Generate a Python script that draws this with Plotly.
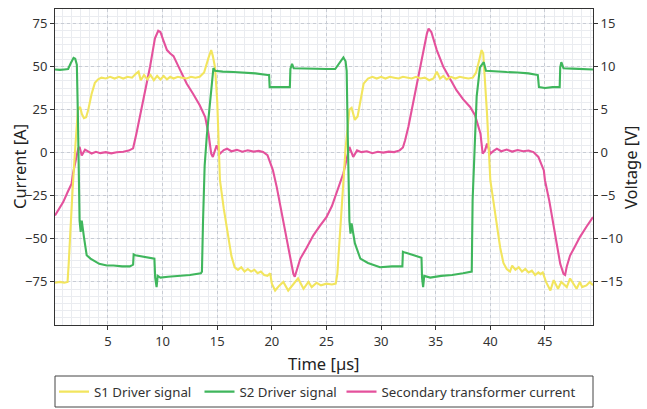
import plotly.graph_objects as go

# ---------------- data ----------------
s1_t = [0.15, 0.6, 1.0, 1.3, 1.4, 1.55, 1.75, 2.0, 2.25, 2.45, 2.6, 2.8, 3.0, 3.2, 3.5, 3.8, 4.1, 4.4,
        4.8, 5.2, 5.6, 6.0, 6.4, 6.8, 7.2, 7.6, 7.8, 8.0, 8.3, 8.6, 8.9, 9.2, 9.5, 9.8, 10.1, 10.4,
        10.7, 11.0, 11.4, 11.8, 12.2, 12.6, 13.0, 13.4, 13.8, 14.2, 14.45, 14.6, 14.8, 15.0, 15.25,
        15.6, 16.0, 16.3, 16.6, 16.9, 17.2, 17.5, 17.8, 18.1, 18.4, 18.7, 19.0, 19.3, 19.6, 19.85,
        20.0, 20.3, 20.7, 21.05, 21.5, 22.0, 22.4, 22.9, 23.35, 23.65, 24.1, 24.5, 25.0, 25.5, 25.85,
        26.0, 26.2, 26.5, 26.75, 26.95, 27.1, 27.3, 27.6, 27.85, 28.1, 28.4, 28.8, 29.2, 29.6, 30.0,
        30.4, 30.8, 31.2, 31.6, 32.0, 32.4, 32.8, 33.2, 33.6, 34.0, 34.4, 34.8, 35.1, 35.4, 35.7,
        36.0, 36.4, 36.8, 37.2, 37.6, 38.0, 38.4, 38.7, 39.0, 39.2, 39.35, 39.5, 39.7, 40.0, 40.4,
        40.9, 41.2, 41.5, 41.8, 42.0, 42.3, 42.6, 42.9, 43.2, 43.5, 43.8, 44.1, 44.4, 44.6, 44.8,
        45.1, 45.5, 45.8, 46.0, 46.2, 46.5, 47.0, 47.3, 47.6, 47.9, 48.2, 48.4, 48.8, 49.1, 49.4]
s1_v = [-15.1, -15.0, -15.1, -15.0, -13.0, -9.0, -4.5, 0.5, 5.0, 5.3, 4.5, 4.0, 4.1, 5.0, 6.8, 8.1, 8.5,
        8.7, 8.6, 8.8, 8.6, 8.8, 8.6, 8.8, 8.7, 9.2, 9.4, 8.4, 9.0, 8.5, 9.0, 8.4, 8.9, 8.5, 8.9, 8.5,
        8.8, 8.6, 8.8, 8.7, 8.6, 8.8, 8.7, 8.8, 9.3, 11.0, 11.9, 11.2, 9.9, 6.0, -3.2, -6.5, -9.8,
        -12.0, -13.3, -13.6, -13.3, -13.8, -13.5, -13.8, -13.6, -14.0, -13.8, -14.2, -14.3, -14.0,
        -15.2, -16.0, -15.4, -15.0, -16.0, -15.2, -14.6, -15.8, -15.0, -15.6, -15.1, -15.4, -15.2,
        -15.3, -15.2, -14.0, -10.0, -3.5, 0.5, 3.0, 5.0, 5.2, 3.8, 4.2, 6.0, 8.0, 8.6, 8.8, 8.6,
        8.8, 8.6, 8.8, 8.7, 8.6, 8.8, 8.7, 8.6, 8.8, 8.6, 8.7, 8.4, 8.6, 9.4, 8.6, 8.9, 8.5, 8.8,
        8.6, 8.8, 8.7, 8.6, 8.7, 9.3, 10.8, 11.9, 11.5, 8.5, 4.5, -3.2, -6.5, -11.0, -12.8, -13.5,
        -13.8, -13.1, -13.6, -13.3, -13.8, -13.5, -13.9, -13.7, -14.2, -13.9, -14.1, -13.9, -15.0,
        -16.0, -14.8, -15.4, -15.8, -15.0, -15.6, -14.6, -15.2, -15.8, -15.0, -15.6, -15.4, -15.0,
        -15.4, -15.3]

s2_t = [0.15, 0.6, 1.0, 1.35, 1.6, 1.85, 2.0, 2.15, 2.25, 2.32, 2.4, 2.5, 2.6, 2.8, 3.05, 3.4, 3.65,
        4.2, 4.9, 5.5, 6.3, 7.0, 7.3, 7.35, 7.5, 8.0, 8.6, 9.25, 9.32, 9.45, 9.55, 9.8, 10.5, 11.5,
        12.5, 13.5, 13.6, 13.7, 13.85, 14.05, 14.3, 14.5, 14.65, 14.8, 15.5, 16.5, 17.5, 18.5, 19.6,
        19.75, 19.8, 20.5, 21.0, 21.65, 21.7, 21.85, 22.0, 23.0, 24.0, 25.0, 25.8, 26.1, 26.55,
        26.75, 26.85, 26.95, 27.05, 27.1, 27.2, 27.3, 27.6, 28.1, 28.8, 29.9, 31.0, 31.95, 32.0,
        32.2, 33.0, 33.7, 33.75, 33.85, 33.95, 34.5, 35.5, 36.5, 37.5, 38.15, 38.3, 38.38, 38.45,
        38.75, 39.05, 39.4, 39.6, 40.5, 41.5, 42.5, 43.5, 44.35, 44.45, 45.0, 45.7, 46.35, 46.4,
        46.5, 46.7, 47.5, 48.5, 49.4]
s2_v = [9.65, 9.6, 9.65, 9.7, 10.4, 11.0, 10.9, 10.2, 4.0, -3.0, -7.9, -9.2, -7.9, -9.8, -11.9,
        -12.3, -12.5, -12.9, -13.1, -13.1, -13.2, -13.2, -13.0, -11.8, -11.9, -12.0, -12.1, -12.3,
        -14.5, -15.6, -14.3, -14.5, -14.4, -14.3, -14.2, -14.0, -13.8, -8.0, -1.5, 2.0, 5.0, 8.0,
        9.8, 9.5, 9.4, 9.35, 9.3, 9.2, 9.0, 9.0, 7.6, 7.6, 7.6, 7.6, 9.7, 10.3, 9.8, 9.75, 9.7,
        9.7, 9.7, 10.3, 11.05, 10.6, 9.5, 2.0, -4.0, -7.9, -9.4, -8.2, -10.5, -12.3, -12.8, -13.3,
        -13.2, -13.2, -11.5, -11.6, -11.9, -12.2, -14.5, -15.6, -14.3, -14.5, -14.3, -14.2, -14.0,
        -13.9, -13.8, -5.5, -3.5, 6.5, 9.9, 10.5, 9.5, 9.4, 9.35, 9.3, 9.2, 9.0, 7.6, 7.5, 7.6,
        7.6, 9.9, 10.5, 9.8, 9.75, 9.7, 9.65]

i_t = [0.15, 0.5, 0.9, 1.3, 1.67, 1.8, 2.0, 2.15, 2.28, 2.4, 2.6, 2.9, 3.2, 3.5, 3.9, 4.3, 4.8, 5.3,
       5.8, 6.4, 6.9, 7.3, 7.6, 7.9, 8.2, 8.5, 8.85, 9.1, 9.3, 9.6, 9.8, 10.06, 10.4, 10.7, 11.0,
       11.6, 12.2, 12.8, 13.4, 13.9, 14.2, 14.45, 14.6, 14.95, 15.25, 15.6, 15.9, 16.3, 16.8, 17.3,
       17.8, 18.3, 18.8, 19.2, 19.6, 20.0, 20.1, 20.45, 21.05, 21.5, 21.97, 22.1, 22.3, 22.6, 23.2,
       23.8, 24.4, 25.0, 25.5, 25.9, 26.55, 26.8, 27.0, 27.1, 27.45, 27.8, 28.2, 28.7, 29.2, 29.7,
       30.2, 30.7, 31.2, 31.7, 32.0, 32.2, 32.5, 32.8, 33.2, 33.6, 33.9, 34.2, 34.35, 34.6, 35.1,
       35.7, 36.3, 36.9, 37.5, 38.15, 38.6, 39.1, 39.3, 39.5, 39.7, 40.0, 40.3, 40.6, 41.0, 41.5,
       42.0, 42.5, 43.0, 43.5, 43.95, 44.4, 44.9, 45.0, 45.4, 45.8, 46.1, 46.4, 46.7, 46.85, 47.0,
       47.3, 47.7, 48.2, 48.8, 49.4]
i_a = [-36.5, -33.0, -28.7, -23.0, -18.0, -12.0, -5.0, 0.0, 2.5, 3.3, -1.6, 1.7, 0.5, -0.5, 0.5,
       -0.3, 0.3, -0.4, 0.2, 0.5, 1.2, 2.5, 11.0, 20.0, 28.5, 39.0, 49.8, 59.0, 66.3, 70.7, 70.0,
       65.3, 59.5, 57.5, 56.0, 48.0, 40.1, 34.0, 27.5, 20.7, 11.0, -0.6, -2.5, 4.2, -0.6, 1.5, 2.3,
       0.8, 1.6, 0.5, 1.4, 0.6, 1.0, 0.4, -1.5, -8.4, -10.3, -20.0, -39.4, -55.0, -70.3, -72.0,
       -68.0, -61.6, -55.0, -48.0, -42.5, -37.4, -31.0, -23.8, -12.0, -5.0, 1.3, 3.3, -2.5, 1.3,
       0.3, 0.8, -0.3, 0.5, 0.0, 0.6, 0.3, 1.3, 3.0, 7.2, 15.0, 24.6, 37.0, 49.8, 60.0, 69.2, 72.0,
       70.0, 59.5, 49.8, 43.0, 36.2, 31.0, 26.5, 21.7, 11.0, -0.6, 1.0, 5.2, -0.6, 1.0, 2.3, 0.8,
       1.8, 0.6, 1.5, 0.8, 1.2, 0.3, -2.5, -10.3, -16.0, -28.0, -43.0, -54.0, -64.5, -70.3, -71.0,
       -66.0, -59.7, -55.0, -49.0, -43.0, -37.4]

x_ticks = [5, 10, 15, 20, 25, 30, 35, 40, 45]
a_ticks = [-75, -50, -25, 0, 25, 50, 75]
v_ticks = [-15, -10, -5, 0, 5, 10, 15]

# ---------------- figure ----------------
W, H = 647, 409
YEL = "#f2e55e"
GRN = "#3fb65c"
PNK = "#e4519c"
FONT = "Noto Sans"
TXT = "#333333"
LW = 2.1

fig = go.Figure()
fig.add_trace(go.Scatter(x=s1_t, y=s1_v, name="S1 Driver signal", mode="lines",
                         line=dict(color=YEL, width=LW), yaxis="y2", legend="legend"))
fig.add_trace(go.Scatter(x=s2_t, y=s2_v, name="S2 Driver signal", mode="lines",
                         line=dict(color=GRN, width=LW), yaxis="y2", legend="legend2"))
fig.add_trace(go.Scatter(x=i_t, y=i_a, name="Secondary transformer current", mode="lines",
                         line=dict(color=PNK, width=LW), yaxis="y", legend="legend3"))

grid_major = "#c8ccd4"
grid_minor = "#eaecf0"
axis_col = "#333333"

def leg(px):
    return dict(orientation="h", xref="container", yref="container",
                x=px / W, xanchor="left", y=1 - 392 / H, yanchor="middle",
                font=dict(family=FONT, size=13.3, color=TXT),
                bgcolor="rgba(0,0,0,0)", borderwidth=0, itemwidth=30)

# plot area: x 55..593, y 9..325
fig.update_layout(
    width=W, height=H,
    margin=dict(l=55, r=54, t=9, b=84, autoexpand=False),
    paper_bgcolor="white", plot_bgcolor="white",
    font=dict(family=FONT, size=13, color=TXT),
    showlegend=True,
    legend=leg(54), legend2=leg(199.5), legend3=leg(341.5),
    xaxis=dict(range=[0.15, 49.4], tickvals=x_ticks, showline=True, linecolor=axis_col,
               linewidth=1, mirror=True, ticks="outside", ticklen=4, tickcolor=axis_col,
               showgrid=True, gridcolor=grid_major, griddash="3px,3px", gridwidth=1,
               minor=dict(dtick=5/6, tick0=0, showgrid=True, gridcolor=grid_minor, gridwidth=1,
                          griddash="solid"),
               zeroline=False, automargin=False,
               tickfont=dict(size=13, color=TXT)),
    yaxis=dict(range=[-100, 83.333], tickvals=a_ticks, showline=True, linecolor=axis_col,
               linewidth=1, ticks="outside", ticklen=4, tickcolor=axis_col,
               showgrid=True, gridcolor=grid_major, griddash="3px,3px", gridwidth=1,
               minor=dict(dtick=25/6, tick0=0, showgrid=True, gridcolor=grid_minor, gridwidth=1,
                          griddash="solid"),
               zeroline=False, automargin=False,
               tickfont=dict(size=13, color=TXT)),
    yaxis2=dict(range=[-20, 16.6667], tickvals=v_ticks, overlaying="y", side="right",
                showline=True, linecolor=axis_col, linewidth=1, ticks="outside", ticklen=4,
                tickcolor=axis_col, showgrid=False, zeroline=False, automargin=False,
                tickfont=dict(size=13, color=TXT)),
    shapes=[dict(type="rect", xref="paper", yref="paper", x0=0, x1=1,
                 y0=-(407 - 325) / 316, y1=-(376 - 325) / 316,
                 line=dict(color="#444444", width=1), fillcolor="rgba(0,0,0,0)")],
    annotations=[
        dict(text="Time [µs]", xref="paper", yref="paper", x=0.5, y=-(363 - 325) / 316,
             xanchor="center", yanchor="middle", showarrow=False,
             font=dict(family=FONT, size=16.5, color="#222222")),
        dict(text="Current [A]", xref="paper", yref="paper", x=-(55 - 19) / 538, y=0.5,
             xanchor="center", yanchor="middle", showarrow=False, textangle=-90,
             font=dict(family=FONT, size=16.5, color="#222222")),
        dict(text="Voltage [V]", xref="paper", yref="paper", x=1 + (630 - 593) / 538, y=0.5,
             xanchor="center", yanchor="middle", showarrow=False, textangle=-90,
             font=dict(family=FONT, size=16.5, color="#222222")),
    ],
)

fig.write_html("out.html", config={"displayModeBar": False},
               post_script="document.body.style.margin='0';")
